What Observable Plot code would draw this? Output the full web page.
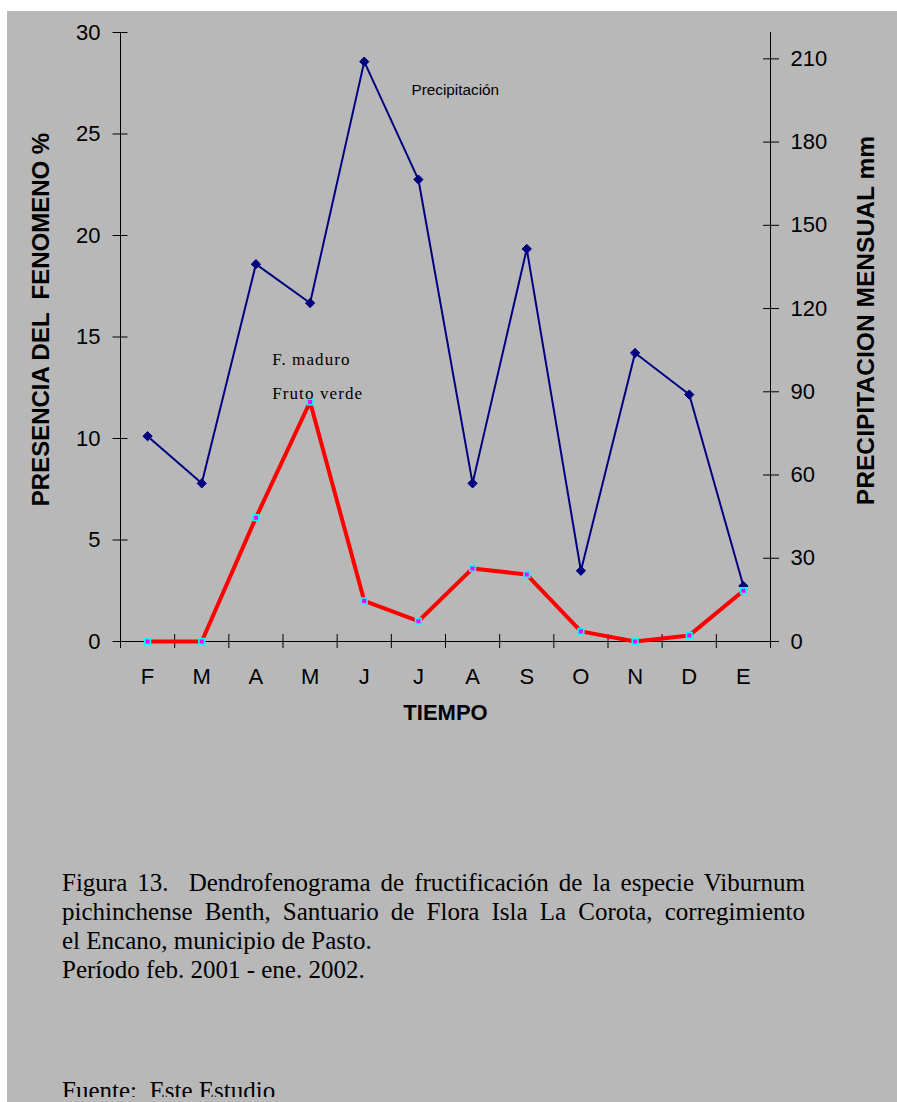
<!DOCTYPE html>
<html>
<head>
<meta charset="utf-8">
<script src="https://cdn.jsdelivr.net/npm/d3@7"></script>
<script src="https://cdn.jsdelivr.net/npm/@observablehq/plot@0.6"></script>
<style>
  html, body { margin: 0; padding: 0; background: #ffffff; }
  #page { position: relative; width: 897px; height: 1102px; overflow: hidden; }
  #panel { position: absolute; left: 7px; top: 11px; right: 0; bottom: 0; background: #b8b8b8; }
  .layer { position: absolute; left: 0; top: 0; }
  #caption {
    position: absolute; left: 62px; top: 868px; width: 743px;
    font-family: "Liberation Serif", "Times New Roman", serif;
    font-size: 25px; line-height: 29px; color: #000;
  }
  #caption div { white-space: pre; }
  #caption .just { text-align: justify; text-align-last: justify; white-space: normal; }
  #fuente {
    position: absolute; left: 62px; top: 1076px; height: 21px; overflow: hidden;
    font-family: "Liberation Serif", "Times New Roman", serif;
    font-size: 25px; line-height: 30px; color: #000; white-space: pre;
  }
</style>
</head>
<body>
<div id="page">
  <div id="panel"></div>
  <div id="back" class="layer"></div>
  <div id="front" class="layer"></div>
  <div id="caption">
    <div class="just">Figura 13.&nbsp; Dendrofenograma de fructificación de la especie Viburnum</div>
    <div class="just">pichinchense Benth, Santuario de Flora Isla La Corota, corregimiento</div>
    <div>el Encano, municipio de Pasto.</div>
    <div>Período feb. 2001 - ene. 2002.</div>
  </div>
  <div id="fuente">Fuente:  Este Estudio</div>
</div>
<script>
// Months from February 2001 to January 2002
const months = ["F", "M", "A", "M", "J", "J", "A", "S", "O", "N", "D", "E"];

// Monthly rainfall (mm), right axis
const precipitacion = [74, 57, 136, 122, 209, 166.5, 57, 141.5, 25.5, 104, 89, 20];

// Presence of green fruit (%), left axis
const frutoVerde = [0, 0, 6.1, 11.8, 2.0, 1.0, 3.6, 3.3, 0.5, 0, 0.3, 2.5];

// Series names written inside the plot
const seriesNames = ["F. maduro", "Fruto verde"];

// Axis ticks
const leftTicks = [0, 5, 10, 15, 20, 25, 30];
const rightTicks = [0, 30, 60, 90, 120, 150, 180, 210];
const leftMax = 30;
const rightMax = 219.5;

const W = 897, H = 760;
const sans = "'Liberation Sans', Arial, Helvetica, sans-serif";
const serif = "'Liberation Serif', 'Times New Roman', serif";

const common = {
  width: W,
  height: H,
  marginLeft: 120,
  marginRight: 127,
  marginTop: 32,
  marginBottom: H - 641,
  x: { type: "linear", domain: [0, months.length], axis: null },
  style: { background: "transparent", overflow: "visible", fontFamily: sans, color: "#000" }
};

const mid = (d, i) => i + 0.5;

// Diamond marker (square turned 45°)
const diamond = {
  draw(context, size) {
    const r = Math.sqrt(size / 2);
    context.moveTo(0, -r);
    context.lineTo(r, 0);
    context.lineTo(0, r);
    context.lineTo(-r, 0);
    context.closePath();
  }
};

// Rainfall layer with the right-hand axis
const back = Plot.plot({
  ...common,
  y: { domain: [0, rightMax], axis: null },
  marks: [
    Plot.ruleX([months.length], { stroke: "#000", strokeWidth: 1 }),
    Plot.axisY(rightTicks, { anchor: "right", tickSize: 16, dx: -8, tickFormat: () => "", label: null, stroke: "#000" }),
    Plot.axisY(rightTicks, { anchor: "right", tickSize: 0, tickPadding: 20, fontSize: 22, fill: "#000", label: null }),
    Plot.line(precipitacion, { x: mid, y: d => d, stroke: "#000080", strokeWidth: 2 }),
    Plot.dot(precipitacion, { x: mid, y: d => d, symbol: diamond, r: 3.7, fill: "#000080", stroke: "#000080", strokeWidth: 1 }),
    Plot.text(["PRECIPITACION MENSUAL mm"], {
      frameAnchor: "right", textAnchor: "middle", dx: 96, dy: -16.5, rotate: -90,
      fontSize: 24.6, fontWeight: "bold", fill: "#000"
    }),
    Plot.text(["Precipitación"], {
      frameAnchor: "top-left", textAnchor: "start", dx: 291, dy: 52,
      fontSize: 15.3, fill: "#000"
    })
  ]
});
document.getElementById("back").appendChild(back);

// Phenology layer with the left-hand axis and the month axis
const front = Plot.plot({
  ...common,
  y: { domain: [0, leftMax], axis: null },
  marks: [
    Plot.ruleY([0], { stroke: "#000", strokeWidth: 1 }),
    Plot.ruleX([0], { stroke: "#000", strokeWidth: 1 }),
    Plot.axisX(d3.range(0, months.length + 1), { tickSize: 14, dy: -7, tickFormat: () => "", label: null, stroke: "#000" }),
    Plot.axisX(months.map(mid), {
      tickSize: 0, tickPadding: 27, fontSize: 22, fill: "#000", label: null,
      tickFormat: v => months[Math.floor(v)]
    }),
    Plot.axisY(leftTicks, { anchor: "left", tickSize: 15, dx: 7.5, tickFormat: () => "", label: null, stroke: "#000" }),
    Plot.axisY(leftTicks, { anchor: "left", tickSize: 0, tickPadding: 20, fontSize: 22, fill: "#000", label: null }),
    Plot.line(frutoVerde, { x: mid, y: d => d, stroke: "#ff0000", strokeWidth: 4 }),
    Plot.dot(frutoVerde, { x: mid, y: d => d, symbol: "square", r: 3.2, fill: "#ff00ff", stroke: "#00ffff", strokeWidth: 1.6 }),
    Plot.text(["PRESENCIA DEL  FENOMENO %"], {
      frameAnchor: "left", textAnchor: "middle", dx: -79, dy: -17.5, rotate: -90,
      fontSize: 24, fontWeight: "bold", fill: "#000"
    }),
    Plot.text(["TIEMPO"], {
      frameAnchor: "bottom", dy: 78.7, fontSize: 22, fontWeight: "bold", fill: "#000"
    }),
    Plot.text([seriesNames[0]], {
      frameAnchor: "top-left", textAnchor: "start", dx: 151.7, dy: 320.5,
      fontFamily: serif, fontSize: 17, fill: "#000"
    }),
    Plot.text([seriesNames[1]], {
      frameAnchor: "top-left", textAnchor: "start", dx: 151.7, dy: 354.5,
      fontFamily: serif, fontSize: 17, fill: "#000"
    })
  ]
});
document.getElementById("front").appendChild(front);

// Series names are set with a little letter spacing
d3.select(front).selectAll("text")
  .filter(function () { return seriesNames.includes(this.textContent); })
  .style("letter-spacing", "1.1px");
</script>
</body>
</html>
